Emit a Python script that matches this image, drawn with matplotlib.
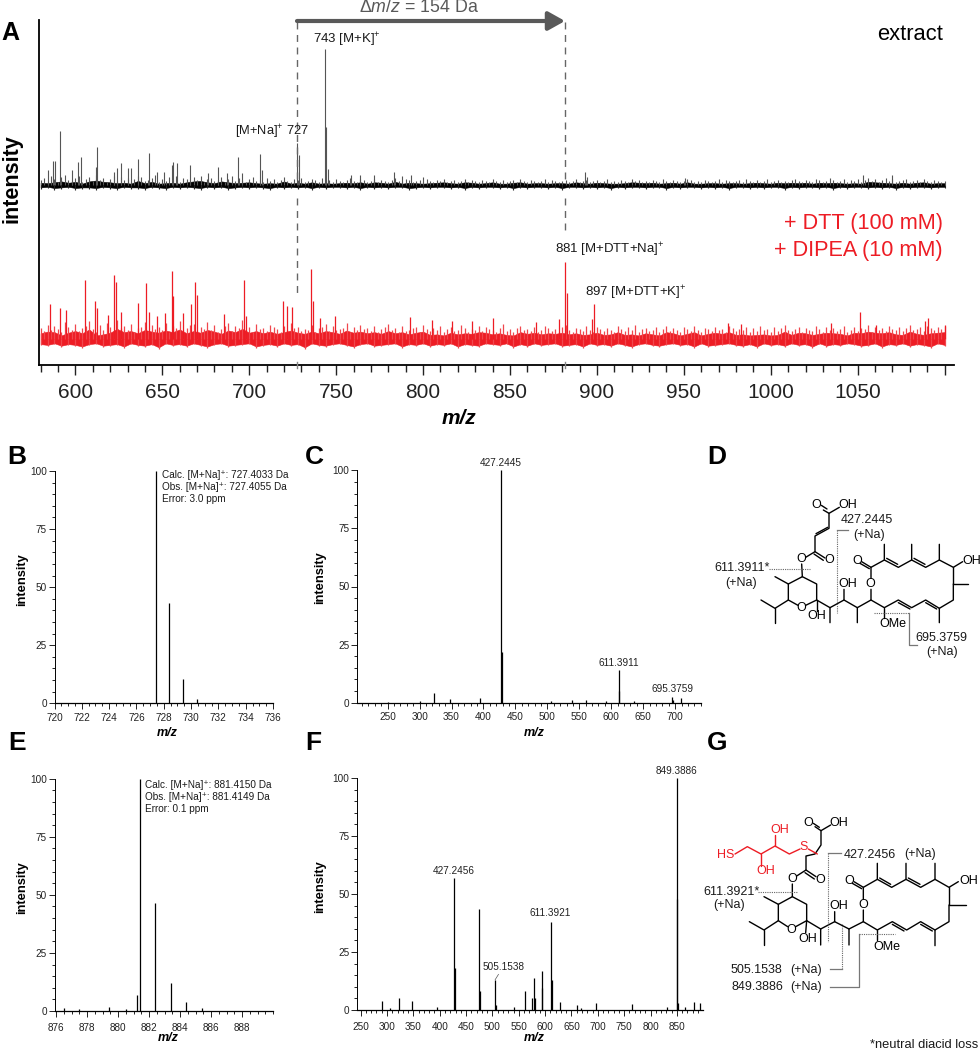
import matplotlib
matplotlib.use('Agg')
import matplotlib.pyplot as plt
import numpy as np
from matplotlib.ticker import MultipleLocator, FixedLocator

plt.rcParams['font.family'] = ['Liberation Sans', 'DejaVu Sans']
plt.rcParams['mathtext.fontset'] = 'custom'
plt.rcParams['mathtext.rm'] = 'Liberation Sans'
plt.rcParams['mathtext.it'] = 'Liberation Sans:italic'
plt.rcParams['mathtext.bf'] = 'Liberation Sans:bold'

W = 980
H = 1050
RED = '#ed1c24'
GREY = '#595959'

# panel A, heights are pixels above the baseline of each trace
black_mz = [584.3, 587.3, 588.3, 591.4, 598.3, 601.3, 603.3, 611.7, 612.5, 622, 624, 626.3, 630.3, 632.2, 636.2,
            642.2, 646.8, 651, 655.6, 656.4, 658.3, 666.1, 676.1, 682.2, 687.4, 693.4, 695.7, 706.4, 707.4,
            727.5, 728.5, 743.6, 744.4, 745.3, 758.4, 764, 771.8, 783.1, 787.7, 793, 800, 893.4, 894.5, 950.7,
            1053.3, 1069.6]
black_h = [15, 24, 24, 54, 15, 23, 28, 18, 38, 13, 17, 22, 17, 17, 26,
           32, 13, 13, 20, 23, 22, 20, 12, 18, 12, 28, 12, 31, 15,
           42, 30, 136, 58, 16, 10, 10, 10, 13, 9, 10, 8, 13, 8, 7,
           10, 10]
red_mz = [585.4, 591.2, 594.4, 605.6, 611.3, 612.3, 618.6, 622.2, 623.2, 626.3, 636.2, 640.6, 642.2, 646.8, 651.4,
          655.4, 656.4, 662.1, 666.3, 668.6, 669.8, 685.5, 696.8, 698.2, 719.6, 721.5, 724.6, 735.5, 736.5,
          740.7, 749.3, 792.5, 805.3, 816.8, 828, 840.4, 865, 878.2, 881.5, 882.6, 897.4, 898.6, 975.2, 982.7,
          1034.5, 1051.5, 1060.5, 1088.7, 1090.7, 1100.2]
red_h = [35, 31, 29, 59, 38, 31, 24, 64, 57, 27, 36, 56, 27, 23, 26,
         68, 43, 26, 35, 57, 44, 25, 59, 23, 38, 33, 32, 70, 38,
         21, 23, 22, 19, 18, 18, 21, 17, 20, 77, 46, 20, 35, 16, 15,
         16, 27, 14, 18, 21, 14]
# grass, one sample per 2 Da from 580 to 1100
black_top = [5, 7, 4, 9, 6, 3, 8, 10, 5, 4, 7, 9, 3, 6, 8, 4, 10, 5, 7, 3,
             6, 9, 4, 8, 5, 7, 3, 6, 9, 8, 4, 5, 7, 10, 3, 6, 4, 8, 5, 9,
             3, 7, 6, 4, 8, 5, 9, 3, 6, 7, 4, 5, 8, 3, 6, 9, 4, 7, 5, 3,
             6, 8, 4, 5, 3, 7, 4, 6, 3, 5, 8, 4, 3, 6, 5, 7, 3, 4, 6, 5,
             3, 7, 4, 5, 3, 6, 4, 3, 5, 7, 4, 3, 6, 5, 3, 4, 6, 3, 5, 4,
             3, 5, 7, 4, 3, 6, 5, 3, 4, 5, 3, 6, 4, 3, 5, 4, 6, 3, 4, 5,
             3, 4, 6, 3, 5, 4, 3, 5, 4, 3, 6, 4, 3, 5, 3, 4, 5, 3, 6, 4,
             3, 5, 4, 3, 4, 6, 3, 5, 4, 3, 4, 5, 3, 4, 6, 3, 4, 5, 3, 4,
             5, 3, 4, 6, 3, 4, 3, 5, 4, 3, 6, 4, 5, 3, 4, 3, 5, 4, 3, 6,
             4, 3, 5, 4, 3, 4, 6, 5, 3, 4, 3, 5, 4, 3, 4, 6, 3, 5, 4, 3,
             4, 5, 3, 6, 4, 3, 5, 3, 4, 6, 3, 4, 5, 3, 4, 3, 5, 6, 4, 3,
             5, 4, 3, 6, 5, 3, 4, 7, 5, 3, 4, 6, 3, 5, 4, 6, 3, 5, 7, 4,
             6, 3, 5, 7, 4, 6, 3, 4, 5, 6, 3, 4, 5, 3, 6, 4, 3, 5, 4, 3, 4]
black_low = [4, 3, 5, 4, 3, 5, 4, 4, 5, 3, 4, 5, 3, 4, 4, 5, 3, 4, 5, 3,
             4, 3, 4, 5, 3, 4, 3, 5, 4, 3, 4, 3, 4, 5, 3, 4, 3, 4, 3, 5,
             3, 4, 3, 3, 4, 3, 5, 3, 4, 3, 4, 3, 3, 5, 4, 3, 4, 3, 3, 4,
             3, 5, 3, 4, 3, 3, 4, 3, 5, 3, 4, 3, 3, 4, 3, 5, 3, 3, 4, 3,
             4, 3, 5, 3, 4, 3, 3, 4, 3, 3, 5, 3, 4, 3, 3, 4, 3, 4, 3, 5,
             3, 3, 4, 3, 4, 3, 3, 5, 3, 4, 3, 3, 4, 3, 5, 3, 4, 3, 3, 4,
             3, 4, 3, 5, 3, 4, 3, 3, 4, 3, 3]
red_top = [11, 8, 14, 9, 13, 10, 7, 17, 12, 9, 15, 8, 11, 13, 18, 10, 7, 14, 9, 16,
           12, 8, 19, 11, 13, 9, 15, 7, 11, 12, 17, 8, 14, 10, 12, 9, 16, 7, 13, 11,
           18, 9, 11, 14, 15, 8, 12, 10, 17, 9, 14, 7, 10, 13, 16, 8, 13, 11, 19, 9,
           12, 7, 15, 10, 11, 8, 14, 12, 10, 7, 13, 9, 16, 11, 12, 8, 10, 9, 14, 7,
           11, 12, 15, 8, 13, 9, 10, 11, 16, 7, 12, 9, 14, 10, 11, 8, 13, 7, 10, 12,
           15, 9, 11, 7, 13, 8, 9, 11, 12, 7, 14, 10, 8, 11, 9, 13, 7, 10, 12, 8,
           9, 14, 11, 7, 10, 9, 13, 8, 12, 10, 9, 7, 11, 15, 8, 10, 7, 11, 13, 9,
           10, 8, 12, 7, 9, 13, 11, 8, 10, 7, 12, 14, 9, 7, 11, 10, 8, 13, 9, 7,
           12, 10, 8, 11, 9, 7, 13, 10, 8, 12, 9, 14, 7, 10, 11, 8, 9, 12, 7, 10,
           13, 8, 11, 9, 7, 12, 10, 8, 13, 9, 7, 11, 10, 8, 12, 9, 10, 7, 13, 11,
           8, 10, 9, 12, 7, 11, 8, 13, 9, 10, 7, 12, 8, 11, 14, 9, 8, 10, 12, 7,
           11, 9, 8, 13, 10, 7, 12, 9, 11, 8, 10, 13, 7, 9, 12, 8, 11, 10, 14, 7,
           12, 9, 11, 8, 13, 10, 9, 12, 8, 11, 14, 9, 10, 12, 8, 13, 11, 9, 12, 10, 13]
red_low = [6, 7, 5, 8, 6, 7, 9, 6, 5, 8, 7, 6, 9, 5, 7, 8, 6, 10, 5, 7,
           6, 8, 5, 7, 9, 6, 5, 8, 7, 6, 5, 9, 7, 6, 8, 5, 7, 6, 10, 5,
           7, 8, 6, 5, 7, 9, 6, 5, 8, 7, 6, 5, 9, 6, 7, 5, 8, 6, 7, 5,
           9, 6, 7, 8, 5, 6, 7, 5, 9, 6, 8, 5, 7, 6, 5, 8, 7, 6, 9, 5,
           7, 6, 8, 5, 7, 9, 6, 5, 7, 8, 6, 5, 7, 6, 9, 5, 8, 7, 6, 5,
           7, 8, 6, 9, 5, 7, 6, 8, 5, 7, 6, 9, 5, 8, 6, 7, 5, 6, 8, 7,
           5, 9, 6, 7, 5, 8, 6, 7, 9, 5, 7]

# panels B, C, E, F: relative intensity
b_mz = [727.4, 728.4, 729.4, 730.4]
b_int = [100, 43, 10.5, 2]
c_mz = [250, 300, 323, 347, 395, 427.2, 428.2, 505, 538, 560, 592, 611.4, 612.4, 635, 695.4, 696.4, 709]
c_int = [0.5, 0.6, 4, 1.5, 2.2, 100, 22, 0.8, 1.1, 1, 0.8, 14, 5, 0.6, 2.6, 1, 2]
e_mz = [876.5, 877.5, 879.4, 880.5, 881.2, 881.4, 882.4, 883.4, 884.4, 885.4]
e_int = [1.5, 0.8, 1.6, 1, 7, 100, 46.5, 12, 4, 1.2]
f_mz = [290, 305, 323, 347, 395, 427.2, 428.2, 475, 476, 505, 506, 540, 561, 576, 579, 580, 594, 595,
        611.4, 612.4, 629, 660, 668, 697, 765, 832, 849.4, 850.4, 851.4, 865, 882, 893]
f_int = [4, 1, 5, 4, 1.5, 57, 18, 43.5, 8, 13, 2, 1.5, 8, 5, 14, 5, 17, 9.5,
         38, 13, 3.3, 2, 1, 3, 2.7, 1.5, 100, 48, 3, 1.5, 3.5, 3]

a_ticks = [600, 650, 700, 750, 800, 850, 900, 950, 1000, 1050]

# structures, px*3 from the corner of each crop; atom labels stand clear of the bonds
d_bonds = [[(490, 240), (507, 250), (538, 232)], [(507, 250), (507, 295), (465, 318), (465, 365), (437, 382)],
           [(465, 365), (495, 384)], [(425, 402), (427, 440), (385, 462), (385, 510), (414, 526)],
           [(437, 526), (470, 510), (470, 462), (427, 440)], [(385, 462), (345, 440)],
           [(385, 510), (345, 535), (303, 510)], [(345, 535), (345, 580)], [(470, 510), (470, 543)],
           [(470, 510), (510, 533), (510, 578)], [(510, 533), (552, 510), (552, 478)],
           [(552, 510), (592, 533), (592, 578)], [(592, 533), (633, 510), (633, 478)],
           [(633, 445), (633, 412), (605, 395)], [(633, 412), (673, 390), (673, 343)],
           [(673, 390), (715, 412), (755, 390), (755, 343)], [(755, 390), (797, 412), (838, 390), (838, 343)],
           [(838, 390), (880, 412), (908, 395)], [(880, 412), (880, 462), (925, 462)],
           [(880, 462), (880, 510), (838, 535), (838, 578)],
           [(838, 535), (797, 510), (755, 533), (715, 510), (673, 533), (633, 510)], [(673, 533), (673, 565)],
           [(503, 292), (468, 311)], [(713, 403), (680, 385)], [(795, 403), (762, 385)],
           [(797, 518), (830, 537)], [(715, 518), (750, 537)], [(484, 226), (501, 237)],
           [(462, 372), (490, 391)], [(628, 416), (600, 400)]]
d_atoms = [('O', 468, 225), ('OH', 563, 225), ('O', 508, 390), ('O', 425, 388), ('O', 425, 533), ('OH', 470, 558),
           ('OH', 563, 462), ('O', 632, 462), ('O', 592, 392), ('OH', 935, 392), ('OMe', 700, 582)]
g_bonds = [[(465, 140), (483, 152), (512, 135)], [(483, 152), (483, 195), (465, 222), (438, 228), (438, 270), (410, 288)],
           [(438, 270), (468, 290)], [(397, 312), (397, 350), (355, 373), (355, 422), (383, 440)],
           [(407, 440), (440, 422), (440, 373), (397, 350)], [(355, 373), (312, 350)],
           [(355, 422), (312, 450), (268, 425)], [(312, 450), (312, 495)], [(440, 422), (437, 458)],
           [(440, 422), (482, 447), (482, 495)], [(482, 447), (524, 425), (524, 395)],
           [(524, 425), (567, 447), (567, 495)], [(567, 447), (610, 425), (610, 390)],
           [(610, 358), (610, 322), (582, 305)], [(610, 322), (652, 298), (652, 250)],
           [(652, 298), (695, 322), (738, 298), (738, 250)], [(738, 298), (782, 322), (825, 298), (825, 250)],
           [(825, 298), (867, 322), (895, 305)], [(867, 322), (867, 375), (917, 375)],
           [(867, 375), (867, 425), (825, 450), (825, 497)],
           [(825, 450), (782, 425), (740, 450), (697, 425), (652, 450), (610, 425)], [(652, 450), (652, 480)],
           [(692, 313), (659, 294)], [(780, 313), (745, 294)], [(782, 433), (817, 453)], [(697, 433), (732, 453)],
           [(460, 130), (478, 142)], [(435, 278), (463, 297)], [(605, 326), (577, 310)]]
g_red_bonds = [[(225, 222), (262, 200), (303, 222), (345, 198), (388, 222), (420, 207)],
               [(303, 222), (303, 258)], [(345, 198), (345, 165)], [(445, 207), (472, 222)]]
g_atoms = [('O', 445, 130), ('OH', 537, 128), ('O', 480, 300), ('O', 397, 298), ('O', 395, 450), ('OH', 443, 477),
           ('OH', 537, 377), ('O', 610, 375), ('O', 568, 302), ('OH', 925, 302), ('OMe', 680, 502)]
g_red_atoms = [('OH', 360, 150), ('OH', 318, 273), ('HS', 198, 225), ('S', 432, 200)]

fig = plt.figure(figsize=(W / 100, H / 100), dpi=100)


def panel(x0, x1, y_bottom, y_top, xlim, ylim):
    ax = fig.add_axes([x0 / W, 1 - y_bottom / H, (x1 - x0) / W, (y_bottom - y_top) / H])
    ax.set_xlim(xlim)
    ax.set_ylim(ylim)
    ax.patch.set_alpha(0)
    ax.spines['top'].set_visible(False)
    ax.spines['right'].set_visible(False)
    return ax


def small_panel(x0, x1, y_bottom, y_top, xlim, mz, vals, major, minor, xpad):
    ax = panel(x0, x1, y_bottom, y_top, xlim, (0, 100))
    ax.vlines(mz, 0, vals, color='black', lw=0.9)
    ax.xaxis.set_major_locator(MultipleLocator(major))
    ax.xaxis.set_minor_locator(MultipleLocator(minor))
    ax.yaxis.set_major_locator(MultipleLocator(25))
    ax.yaxis.set_minor_locator(MultipleLocator(5))
    ax.tick_params(which='major', length=4, width=0.7, labelsize=7.2, pad=1.5, color='#222222', labelcolor='#222222')
    ax.tick_params(which='minor', length=2.5, width=0.7, color='#222222')
    ax.tick_params(axis='x', which='major', pad=xpad)
    ax.spines['left'].set_linewidth(0.7)
    ax.spines['bottom'].set_linewidth(0.9)
    return ax


# panel A
ax_a = panel(38.5, 954, 365, 20, (578.8, 1105.4), (0, 345))
noise_mz = np.arange(580, 1101, 2)
low_mz = noise_mz[::2]
black_base = 180
red_base = 25.7
black_top = np.array(black_top)
black_low = np.array(black_low)
red_top = np.array(red_top)
red_low = np.array(red_low)
# thin grass with a jagged solid body under it
ax_a.vlines(noise_mz, black_base, black_base + black_top, color='#555555', lw=0.8)
ax_a.vlines(low_mz, black_base - black_low, black_base, color='#222222', lw=0.8)
ax_a.fill_between(low_mz, black_base - 0.6 * black_low, black_base + 0.45 * black_top[::2], color='black', lw=0.4)
ax_a.vlines(black_mz, black_base, black_base + np.array(black_h), color='#555555', lw=0.8)
ax_a.vlines(noise_mz, red_base, red_base + red_top, color='#f0474d', lw=0.9)
ax_a.vlines(low_mz, red_base - red_low, red_base, color='#f0474d', lw=0.9)
ax_a.fill_between(low_mz, red_base - 0.8 * red_low, red_base + 0.55 * red_top[::2], color=RED, lw=0.4)
ax_a.vlines(red_mz, red_base, red_base + np.array(red_h), color=RED, lw=0.9)
ax_a.xaxis.set_major_locator(FixedLocator(a_ticks + [1100]))
ax_a.set_xticklabels([str(t) for t in a_ticks] + [''])
ax_a.xaxis.set_minor_locator(MultipleLocator(10))
ax_a.set_yticks([])
ax_a.tick_params(which='major', length=7.2, width=1, labelsize=15, pad=6, color='#222222', labelcolor='#222222')
ax_a.tick_params(which='minor', length=5.2, width=1, color='#222222')
ax_a.spines['left'].set_linewidth(1.3)
ax_a.spines['bottom'].set_linewidth(1.3)

# panels B, C, E, F
ax_b = small_panel(54.5, 273, 703.3, 471, (720, 736), b_mz, b_int, 2, 0.5, 3)
ax_c = small_panel(357, 700.7, 702.7, 470.3, (202, 740), c_mz, c_int, 50, 10, 3)
ax_e = small_panel(54.5, 273, 1011, 778.7, (875.9, 890), e_mz, e_int, 2, 0.5, 4.5)
ax_e.set_xticks([876, 878, 880, 882, 884, 886, 888])
ax_f = small_panel(357, 702.7, 1010, 778, (243, 899), f_mz, f_int, 50, 10, 4.5)

peak_font = dict(ha='center', va='bottom', fontsize=7.2, color='#222222')
ax_c.annotate('427.2445', (427.2, 100), xytext=(0, 1.5), textcoords='offset points', annotation_clip=False, **peak_font)
ax_c.annotate('611.3911', (611.4, 14), xytext=(0, 1.5), textcoords='offset points', **peak_font)
ax_c.annotate('695.3759', (695.4, 2.6), xytext=(0, 2), textcoords='offset points', **peak_font)
ax_f.annotate('849.3886', (849.4, 100), xytext=(0, 1.5), textcoords='offset points', annotation_clip=False, **peak_font)
ax_f.annotate('427.2456', (427.2, 57), xytext=(0, 1.5), textcoords='offset points', **peak_font)
ax_f.annotate('611.3921', (611.4, 38), xytext=(-1, 2.5), textcoords='offset points', **peak_font)
ax_f.annotate('505.1538', (505, 13), xytext=(6, 6), textcoords='offset points',
              arrowprops=dict(arrowstyle='-', color='#555555', lw=0.5, shrinkA=0, shrinkB=0), **peak_font)

# everything else is placed in pixels on a sheet over the whole figure
sheet = fig.add_axes([0, 0, 1, 1])
sheet.set_xlim(0, W)
sheet.set_ylim(H, 0)
sheet.axis('off')
sheet.patch.set_alpha(0)


def put(x, y, s, size, ha='left', va='center', color='#1a1a1a', **kw):
    sheet.text(x, y, s, fontsize=size, ha=ha, va=va, color=color, **kw)


for label, x, y, size in [('A', 1, 33, 18), ('B', 7, 457, 19), ('C', 305, 457, 19), ('D', 707, 457, 19),
                          ('E', 8, 743, 19), ('F', 305, 743, 19), ('G', 707, 743, 19)]:
    put(x, y, label, size, color='black', fontweight='bold')

put(12, 179, 'intensity', 15.5, ha='center', color='black', fontweight='bold', rotation=90)
put(459, 418, 'm/z', 15, ha='center', color='black', fontweight='bold', style='italic')
for x, y in [(22, 580), (320.5, 578), (22, 888), (320.5, 887)]:
    put(x, y, 'intensity', 9.3, ha='center', color='black', fontweight='bold', rotation=90)
for x, y in [(167, 733), (534, 733), (168, 1038), (534, 1038)]:
    put(x, y, 'm/z', 9, ha='center', color='black', fontweight='bold', style='italic')

# delta arrow and the two dashed guides
sheet.annotate('', xy=(565, 21), xytext=(297, 21),
               arrowprops=dict(arrowstyle='-|>,head_length=0.5,head_width=0.28', color=GREY, lw=3,
                               shrinkA=0, shrinkB=0, mutation_scale=20))
put(419, 7, 'Δ$\\mathit{m/z}$ = 154 Da', 12.8, ha='center', color=GREY)
dash = dict(color='#666666', lw=1, dashes=(5, 4))
sheet.plot([297, 297], [22, 182], **dash)
sheet.plot([297, 297], [198, 293], **dash)
sheet.plot([565, 565], [22, 182], **dash)
sheet.plot([565, 565], [198, 230], **dash)
sheet.plot([297, 297], [362, 368], color='#888888', lw=1)
sheet.plot([565, 565], [362, 368], color='#888888', lw=1)

put(313, 40, '743 [M+K]$^{+}$', 9.5)
put(235, 131.5, '[M+Na]$^{+}$ 727', 9.3)
put(555, 250, '881 [M+DTT+Na]$^{+}$', 9.5)
put(585, 292.5, '897 [M+DTT+K]$^{+}$', 9.5)
put(942.7, 35, 'extract', 15.8, ha='right', color='black')
put(942.7, 224, '+ DTT (100 mM)', 15.6, ha='right', color=RED)
put(942.7, 250.5, '+ DIPEA (10 mM)', 15.6, ha='right', color=RED)

for y, s in [(478.5, 'Calc. [M+Na]⁺: 727.4033 Da'), (490.5, 'Obs. [M+Na]⁺: 727.4055 Da'), (502.5, 'Error: 3.0 ppm')]:
    put(161.6, y, s, 7.2, va='baseline')
for y, s in [(787.5, 'Calc. [M+Na]⁺: 881.4150 Da'), (799.5, 'Obs. [M+Na]⁺: 881.4149 Da'), (811.5, 'Error: 0.1 ppm')]:
    put(144.5, y, s, 7.2, va='baseline')


def draw_structure(ox, oy, bonds, atoms, color='black'):
    for bond in bonds:
        pts = np.array(bond) / 3
        sheet.plot(ox + pts[:, 0], oy + pts[:, 1], color=color, lw=1, solid_capstyle='round')
    for s, x, y in atoms:
        put(ox + x / 3, oy + y / 3, s, 9, ha='center', color=color)


def leader(ox, oy, pts, dotted=False):
    pts = np.array(pts) / 3
    if dotted:
        sheet.plot(ox + pts[:, 0], oy + pts[:, 1], color='#666666', lw=0.8, dashes=(1, 1))
    else:
        sheet.plot(ox + pts[:, 0], oy + pts[:, 1], color='#777777', lw=0.9)


# structure D
dx, dy = 660, 430
draw_structure(dx, dy, d_bonds, d_atoms)
leader(dx, dy, [(328, 416), (450, 416)], True)
leader(dx, dy, [(532, 300), (532, 550)], True)
leader(dx, dy, [(532, 300), (565, 300)])
leader(dx, dy, [(642, 550), (748, 550)], True)
leader(dx, dy, [(748, 550), (748, 645), (772, 645)])
put(dx + 163 / 3, dy + 415 / 3, '611.3911*', 9)
put(dx + 243 / 3, dy + 458 / 3, '(+Na)', 9, ha='center')
put(dx + 542 / 3, dy + 270 / 3, '427.2445', 9)
put(dx + 626 / 3, dy + 314 / 3, '(+Na)', 9, ha='center')
put(dx + 766 / 3, dy + 623 / 3, '695.3759', 9)
put(dx + 845 / 3, dy + 665 / 3, '(+Na)', 9, ha='center')

# structure G
gx, gy = 660, 780
draw_structure(gx, gy, g_bonds, g_atoms)
draw_structure(gx, gy, g_red_bonds, g_red_atoms, color=RED)
leader(gx, gy, [(293, 335), (415, 335)], True)
leader(gx, gy, [(505, 218), (505, 485)], True)
leader(gx, gy, [(542, 218), (505, 218)])
leader(gx, gy, [(547, 568), (547, 432)], True)
leader(gx, gy, [(510, 568), (547, 568)])
leader(gx, gy, [(510, 620), (597, 620), (597, 462)])
leader(gx, gy, [(597, 462), (705, 462)], True)
put(gx + 130 / 3, gy + 335 / 3, '611.3921*', 9)
put(gx + 208 / 3, gy + 376 / 3, '(+Na)', 9, ha='center')
put(gx + 552 / 3, gy + 225 / 3, '427.2456', 9)
put(gx + 733 / 3, gy + 222 / 3, '(+Na)', 9)
put(gx + 213 / 3, gy + 570 / 3, '505.1538', 9)
put(gx + 390 / 3, gy + 570 / 3, '(+Na)', 9)
put(gx + 213 / 3, gy + 620 / 3, '849.3886', 9)
put(gx + 390 / 3, gy + 620 / 3, '(+Na)', 9)
put(gx + 630 / 3, gy + 795 / 3, '*neutral diacid loss', 9.3)

fig.savefig('out.png', dpi=100)
